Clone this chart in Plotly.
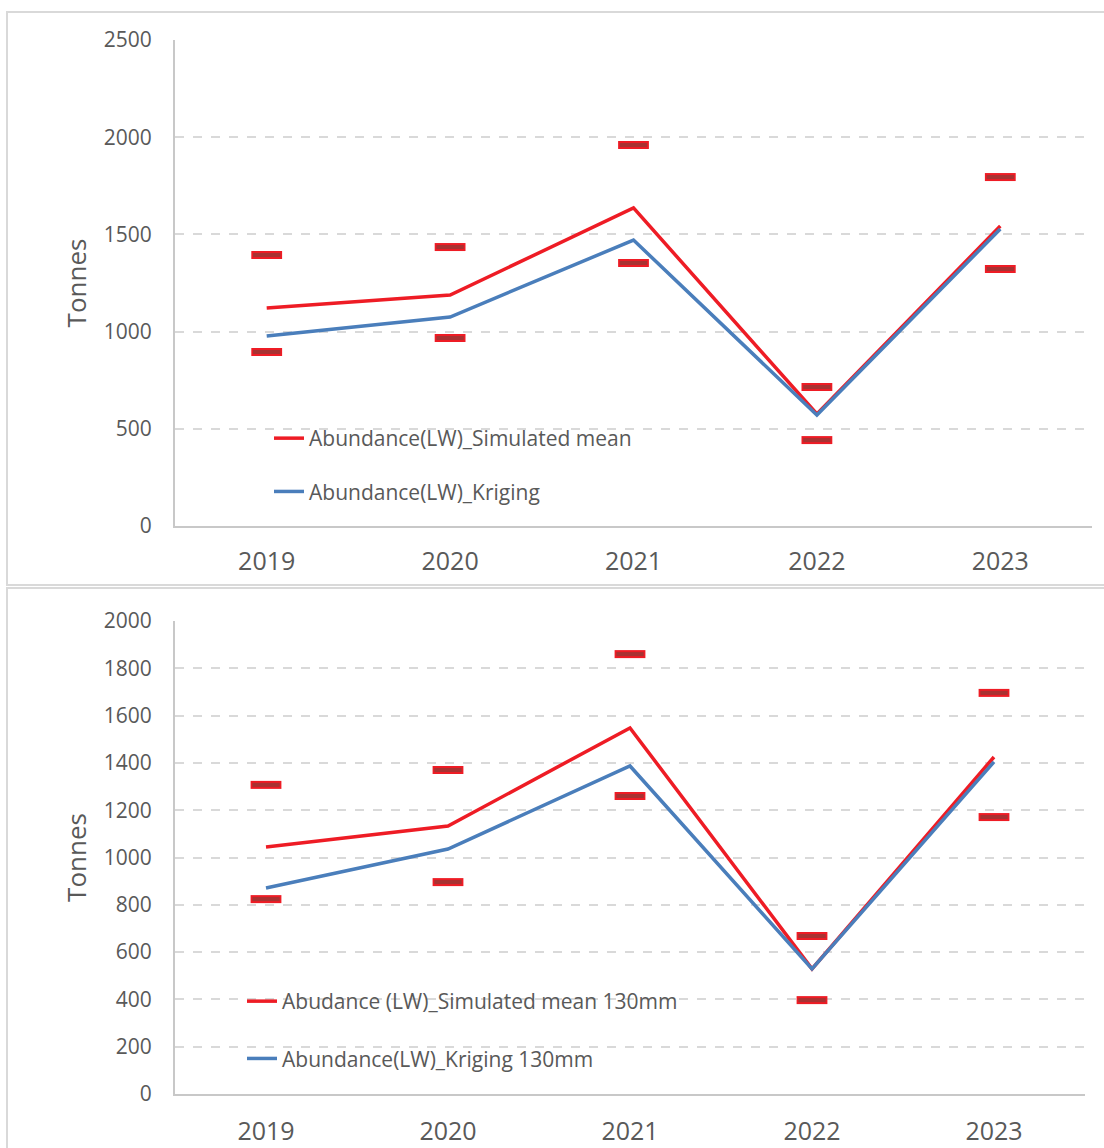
import plotly.graph_objects as go

# Survey years on the category axis
years = ["2019", "2020", "2021", "2022", "2023"]

# Panel 1: total abundance (tonnes)
sim_mean_all = [1121, 1188, 1636, 576, 1543]
kriging_all = [977, 1075, 1471, 571, 1528]
upper_all = [1394, 1435, 1960, 715, 1795]
lower_all = [895, 967, 1353, 442, 1322]

# Panel 2: abundance above 130 mm (tonnes)
sim_mean_130 = [1044, 1133, 1548, 529, 1425]
kriging_130 = [871, 1036, 1387, 529, 1404]
upper_130 = [1307, 1370, 1860, 668, 1696]
lower_130 = [824, 896, 1260, 397, 1171]

RED = "#ee1c25"
BLUE = "#4a7ebb"
DARK_RED = "#a83232"
GREY_TXT = "#595959"
GRID = "#d9d9d9"
FONT = "Open Sans"

W, H = 1104, 1148


def px_x(v):
    return v / W


def px_y(v):
    return 1 - v / H


fig = go.Figure()


def add_panel(xa, ya, legend, mean, krig, upper, lower, mean_name, krig_name):
    fig.add_trace(go.Scatter(
        x=years, y=mean, mode="lines", name=mean_name,
        line=dict(color=RED, width=3.5), xaxis=xa, yaxis=ya,
        legend=legend, legendgroup=legend + "m",
    ))
    fig.add_trace(go.Scatter(
        x=years, y=krig, mode="lines", name=krig_name,
        line=dict(color=BLUE, width=3.5), xaxis=xa, yaxis=ya,
        legend=legend, legendgroup=legend + "k",
    ))
    # interval bounds drawn as flat bar markers: red rim, dark red core
    for vals in (upper, lower):
        fig.add_trace(go.Scatter(
            x=years, y=vals, mode="markers", showlegend=False,
            marker=dict(symbol="line-ew", size=22,
                        line=dict(color=RED, width=8)),
            xaxis=xa, yaxis=ya, hoverinfo="y",
        ))
        fig.add_trace(go.Scatter(
            x=years, y=vals, mode="markers", showlegend=False,
            marker=dict(symbol="line-ew", size=19.5,
                        line=dict(color=DARK_RED, width=4)),
            xaxis=xa, yaxis=ya, hoverinfo="skip",
        ))


add_panel("x", "y", "legend", sim_mean_all, kriging_all, upper_all, lower_all,
          "Abundance(LW)_Simulated mean", "Abundance(LW)_Kriging")
add_panel("x2", "y2", "legend2", sim_mean_130, kriging_130, upper_130, lower_130,
          "Abudance (LW)_Simulated mean 130mm", "Abundance(LW)_Kriging 130mm")

xaxis_common = dict(
    type="category", range=[-0.5, 4.5], showgrid=False,
    showline=True, linecolor="#c8c8c8", linewidth=2,
    ticks="", automargin=False,
    tickfont=dict(family=FONT, size=25, color=GREY_TXT),
    fixedrange=True,
)
yaxis_common = dict(
    showgrid=True, gridcolor=GRID, gridwidth=1.5, griddash="dash",
    zeroline=False, showline=True, linecolor="#c8c8c8", linewidth=2,
    ticks="", ticklabelstandoff=17, automargin=False,
    tickfont=dict(family=FONT, size=21, color=GREY_TXT),
    title=dict(text="Tonnes", font=dict(family=FONT, size=26, color=GREY_TXT),
               standoff=10),
    fixedrange=True,
)

fig.update_layout(
    width=W, height=H,
    margin=dict(l=0, r=0, t=0, b=0, autoexpand=False),
    paper_bgcolor="white", plot_bgcolor="white",
    xaxis=dict(xaxis_common, domain=[px_x(175), px_x(1092)], anchor="y",
               ticklabelstandoff=12),
    yaxis=dict(yaxis_common, domain=[px_y(526), px_y(40)], anchor="x",
               range=[0, 2500], dtick=500),
    xaxis2=dict(xaxis_common, domain=[px_x(175), px_x(1085)], anchor="y2",
                ticklabelstandoff=14),
    yaxis2=dict(yaxis_common, domain=[px_y(1094), px_y(621)], anchor="x2",
                range=[0, 2000], dtick=200),
    legend=dict(
        x=px_x(269), y=px_y(418), xanchor="left", yanchor="top",
        bgcolor="rgba(255,255,255,0)", tracegroupgap=23,
        font=dict(family=FONT, size=21, color=GREY_TXT),
    ),
    legend2=dict(
        x=px_x(242), y=px_y(981), xanchor="left", yanchor="top",
        bgcolor="rgba(255,255,255,0)", tracegroupgap=27,
        font=dict(family=FONT, size=21, color=GREY_TXT),
    ),
    shapes=[
        dict(type="rect", xref="paper", yref="paper",
             x0=px_x(7), x1=1.02, y0=px_y(585), y1=px_y(12),
             line=dict(color=GRID, width=2), layer="below"),
        dict(type="rect", xref="paper", yref="paper",
             x0=px_x(7), x1=1.02, y0=-0.02, y1=px_y(588),
             line=dict(color=GRID, width=2), layer="below"),
    ],
    showlegend=True,
)

fig.write_html("out.html")
